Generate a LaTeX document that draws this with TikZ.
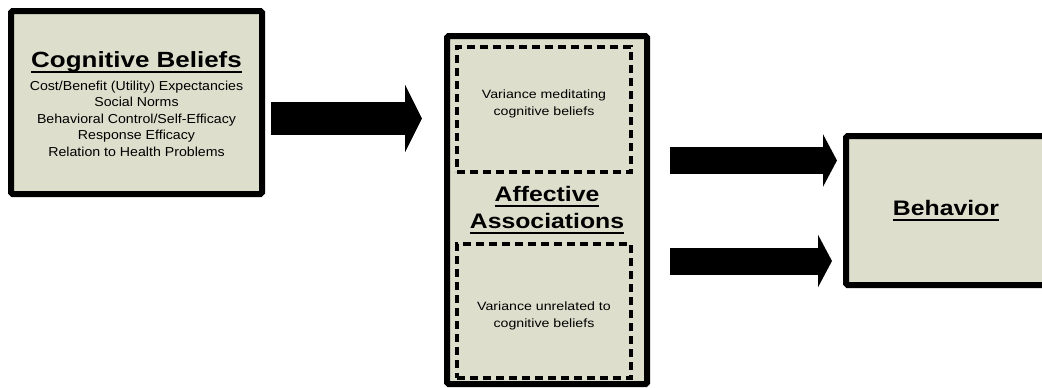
\documentclass[tikz,border=0pt]{standalone}
\usepackage{fontspec}
\newfontfamily\boxfont[FakeStretch=1.18]{Liberation Sans}
\newfontfamily\listfont[FakeStretch=1.09]{Liberation Sans}
\usetikzlibrary{arrows.meta,%
                positioning}
\definecolor{boxfill}{RGB}{221,223,204}
\newcommand{\headline}[1]{\setbox0\hbox{#1}\copy0\llap{\rule[-5pt]{\wd0}{2pt}}}

\begin{document}
\begin{tikzpicture}[x=1pt,y=-1pt,font=\boxfont,
	block/.style={draw,fill=boxfill,line width=6pt,rounded corners=1.5pt,inner sep=0pt},
	part/.style={draw,line width=3.5pt,dash pattern=on 8pt off 5pt,inner sep=0pt},
	bigarrow/.style={line width=33pt,-{Triangle[length=17pt,width=67pt]}},
	midarrow/.style={line width=27pt,-{Triangle[length=14pt,width=52pt]}}]
	\useasboundingbox (0,0) rectangle (1042,388);

	% boxes
	\node[block,minimum width=251pt,minimum height=183pt] (cog) at (136.5,102.5) {};
	\node[block,minimum width=200pt,minimum height=348pt] (aff) at (547,210) {};
	\node[block,minimum width=212pt,minimum height=149pt] (beh) at (952,210.5) {};
	\node[part,minimum width=174pt,minimum height=125pt] (up) at (544,109.5) {};
	\node[part,minimum width=174pt,minimum height=134pt] (low) at (544,311) {};

	% texts
	\node (cogtitle) at ([yshift=40pt]cog.center) {\fontsize{22}{24}\selectfont\bfseries\headline{Cognitive Beliefs}};
	\node[align=center,font=\listfont\fontsize{13}{16.5}\selectfont] (coglist) at ([yshift=-16pt]cog.center)
		{Cost/Benefit (Utility) Expectancies\\Social Norms\\Behavioral Control/Self-Efficacy\\Response Efficacy\\Relation to Health Problems};
	\node[align=center,font=\boxfont\fontsize{21}{27}\selectfont\bfseries] (afftitle) at (aff.center)
		{\headline{Affective}\\\headline{Associations}};
	\node[align=center,font=\boxfont\fontsize{12}{17}\selectfont] (uptext) at ([yshift=5.5pt]up.center)
		{Variance meditating\\cognitive beliefs};
	\node[align=center,font=\boxfont\fontsize{12}{17}\selectfont] (lowtext) at ([yshift=-5pt]low.center)
		{Variance unrelated to\\cognitive beliefs};
	\node (behtitle) at ([xshift=-6pt]beh.center) {\fontsize{21}{24}\selectfont\bfseries\headline{Behavior}};

	% arrows
	\draw[bigarrow,shorten <=6pt,shorten >=22pt] ([yshift=-16pt]cog.east) -- ([yshift=-16pt]cog.east -| aff.west);
	\draw[midarrow,shorten <=20pt,shorten >=6pt] ([yshift=50pt]beh.west -| aff.east) -- ([yshift=50pt]beh.west);
	\draw[midarrow,shorten <=20pt,shorten >=11pt] ([yshift=-50.5pt]beh.west -| aff.east) -- ([yshift=-50.5pt]beh.west);
\end{tikzpicture}
\end{document}
